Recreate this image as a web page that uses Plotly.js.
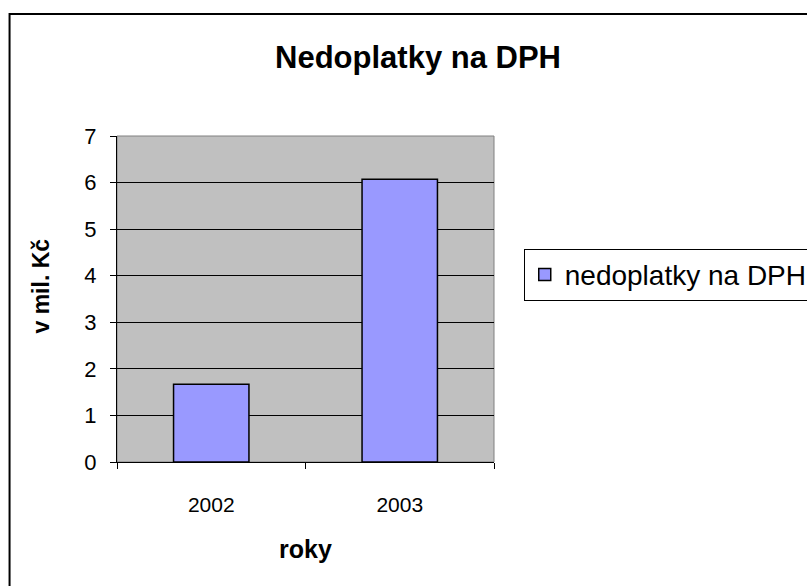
<!DOCTYPE html>
<html>
<head>
<meta charset="utf-8">
<script src="https://cdn.plot.ly/plotly-3.0.1.min.js"></script>
<style>html,body{margin:0;padding:0;background:#fff;}#chart{width:807px;height:586px;}</style>
</head>
<body>
<div id="chart"></div>
<script>
var years = ["2002", "2003"];
var values = [1.67, 6.07];
var seriesName = "nedoplatky na DPH";
var yTicks = [0, 1, 2, 3, 4, 5, 6, 7];

var FONT = "Liberation Sans, Arial, sans-serif";

var trace = {
  type: "bar",
  x: years,
  y: values,
  name: seriesName,
  marker: {color: "#9999FF", line: {color: "#000000", width: 1.5}},
  showlegend: true,
  hoverinfo: "x+y"
};

var layout = {
  width: 807,
  height: 586,
  margin: {l: 117, r: 313, t: 136, b: 124, pad: 0, autoexpand: false},
  paper_bgcolor: "#FFFFFF",
  plot_bgcolor: "#C0C0C0",
  font: {family: FONT, color: "#000000", size: 20},
  bargap: 0.6,
  title: {
    text: "<b>Nedoplatky na DPH</b>",
    font: {family: FONT, size: 31, color: "#000"},
    xref: "container", yref: "container",
    x: 0.518, y: 0.903, xanchor: "center", yanchor: "middle"
  },
  xaxis: {
    type: "category",
    tickson: "boundaries",
    ticks: "outside",
    ticklen: 6,
    tickcolor: "#000",
    tickwidth: 1,
    showline: true,
    linecolor: "#000",
    linewidth: 1,
    showgrid: false,
    zeroline: false,
    tickfont: {family: FONT, size: 21},
    ticklabelstandoff: 24,
    title: {text: "<b>roky</b>", font: {family: FONT, size: 25}, standoff: 25},
    automargin: false
  },
  yaxis: {
    range: [0, 7],
    tickvals: yTicks,
    ticks: "outside",
    ticklen: 6,
    tickcolor: "#000",
    showline: true,
    linecolor: "#000",
    linewidth: 1,
    showgrid: true,
    gridcolor: "#000",
    gridwidth: 1,
    zeroline: false,
    tickfont: {family: FONT, size: 22},
    ticklabelstandoff: 9,
    title: {text: "&nbsp;&nbsp;&nbsp;&nbsp;<b>v mil. Kč</b>", font: {family: FONT, size: 23}, standoff: 28},
    automargin: false
  },
  legend: {
    xref: "container", yref: "container",
    x: 0.649, y: 0.531, xanchor: "left", yanchor: "middle",
    bordercolor: "#000", borderwidth: 1,
    bgcolor: "#FFFFFF",
    font: {family: FONT, size: 28},
    itemwidth: 30,
    itemclick: false
  },
  shapes: [
    {type: "rect", xref: "paper", yref: "paper", x0: 0, x1: 1, y0: 0, y1: 1,
     line: {color: "#808080", width: 1}, layer: "below", fillcolor: "rgba(0,0,0,0)"},
    {type: "rect", xref: "paper", yref: "paper", x0: -0.285, x1: 2, y0: -1, y1: 1.374,
     line: {color: "#000", width: 2}, fillcolor: "rgba(0,0,0,0)"}
  ]
};

Plotly.newPlot("chart", [trace], layout, {displayModeBar: false, staticPlot: true});
</script>
</body>
</html>
